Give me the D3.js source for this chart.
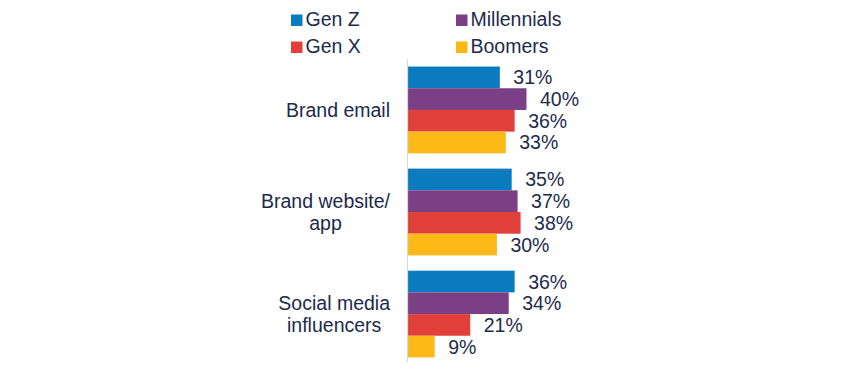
<!DOCTYPE html>
<html>
<head>
<meta charset="utf-8">
<script src="https://cdn.jsdelivr.net/npm/d3@7/dist/d3.min.js"></script>
<style>
  html, body { margin: 0; padding: 0; background: #ffffff; }
  svg { display: block; }
  text { font-family: "Liberation Sans", Arial, sans-serif; fill: #1e2a4a; }
</style>
</head>
<body>
<svg id="chart" width="850" height="382"></svg>
<script>
const categories = [["Brand email"], ["Brand website/", "app"], ["Social media", "influencers"]];
const categoryKeys = ["Brand email", "Brand website/app", "Social media influencers"];
const seriesNames = ["Gen Z", "Millennials", "Gen X", "Boomers"];
const genZ = [31, 35, 36];
const millennials = [40, 37, 34];
const genX = [36, 38, 21];
const boomers = [33, 30, 9];
const seriesValues = [genZ, millennials, genX, boomers];
const seriesColors = ["#0b7bbf", "#7a3f84", "#e1403a", "#fbb817"];

const svg = d3.select("#chart");

const y0 = d3.scaleBand().domain(categoryKeys).range([63.5, 360.5]).paddingInner(0.15).paddingOuter(0.03);
const y1 = d3.scaleBand().domain(seriesNames).range([0, y0.bandwidth()]).padding(0);
const x = d3.scaleLinear().domain([0, 40]).range([408, 526.5]);

// bars
const groups = svg.append("g").selectAll("g")
  .data(categoryKeys)
  .join("g")
  .attr("transform", d => `translate(0,${y0(d)})`);

groups.each(function(cat, ci) {
  const g = d3.select(this);
  seriesNames.forEach((s, si) => {
    const v = seriesValues[si][ci];
    g.append("rect")
      .attr("x", x(0))
      .attr("y", y1(s))
      .attr("width", x(v) - x(0))
      .attr("height", y1.bandwidth())
      .attr("fill", seriesColors[si]);
    g.append("text")
      .attr("x", x(v) + 13.5)
      .attr("y", y1(s) + y1.bandwidth() / 2)
      .attr("dy", "0.36em")
      .attr("font-size", "19.5px")
      .text(v + "%");
  });
});

// axis line
svg.append("line")
  .attr("x1", 407.5).attr("x2", 407.5)
  .attr("y1", 59).attr("y2", 362)
  .attr("stroke", "#d9d9d9").attr("stroke-width", 1.2);

// category labels
const labelRight = 390;
const lineH = 22;
categories.forEach((lines, ci) => {
  const cy = y0(categoryKeys[ci]) + y0.bandwidth() / 2;
  const t = svg.append("text")
    .attr("font-size", "19.5px")
    .attr("text-anchor", "middle");
  const tmp = svg.append("g");
  let maxW = 0;
  lines.forEach(l => {
    const tt = tmp.append("text").attr("font-size", "19.5px").text(l);
    maxW = Math.max(maxW, tt.node().getComputedTextLength());
  });
  tmp.remove();
  const cx = labelRight - maxW / 2;
  const startY = cy - (lines.length - 1) * lineH / 2;
  lines.forEach((l, li) => {
    t.append("tspan")
      .attr("x", cx)
      .attr("y", startY + li * lineH)
      .attr("dy", "0.36em")
      .text(l);
  });
});

// legend
const legendPos = [[291, 26], [456, 26], [291, 53], [456, 53]];
const legendOrder = ["Gen Z", "Millennials", "Gen X", "Boomers"];
legendOrder.forEach((s, i) => {
  const [lx, ly] = legendPos[i];
  const si = seriesNames.indexOf(s);
  svg.append("rect")
    .attr("x", lx).attr("y", ly - 11.5)
    .attr("width", 11.5).attr("height", 11.5)
    .attr("fill", seriesColors[si]);
  svg.append("text")
    .attr("x", lx + 14.5).attr("y", ly)
    .attr("font-size", "19.5px")
    .text(s);
});
</script>
</body>
</html>
